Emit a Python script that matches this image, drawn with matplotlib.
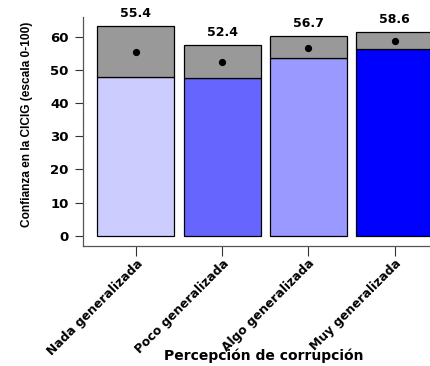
import matplotlib
matplotlib.use('Agg')
import matplotlib.pyplot as plt
import numpy as np

# Data
categories = ['Nada generalizada', 'Poco generalizada', 'Algo generalizada', 'Muy generalizada']
means = [55.4, 52.4, 56.7, 58.6]
lower = [47.8, 47.6, 53.5, 56.3]
upper = [63.3, 57.4, 60.3, 61.3]
bar_colors = ['#CCCCFF', '#6666FF', '#9999FF', '#0000FF']

fig = plt.figure(figsize=(4.3, 3.66), dpi=100)
ax = fig.add_axes([0.1923, 0.3279, 0.8077, 0.6265])

x = np.arange(len(categories))
width = 0.893

# lower part of each bar (0 to lower bound) and grey CI band
ax.bar(x, lower, width=width, color=bar_colors, edgecolor='black', linewidth=0.9)
ax.bar(x, np.array(upper) - np.array(lower), bottom=lower, width=width,
       color='#999999', edgecolor='black', linewidth=0.9)
ax.plot(x, means, 'o', color='black', markersize=4.2)

for xi, m, up in zip(x, means, upper):
    ax.text(xi, up + 1.8, f'{m:.1f}', ha='center', va='bottom',
            fontsize=9, fontweight='bold', family='DejaVu Sans', clip_on=False)

ax.set_xlim(-0.618, 3.41)
ax.set_ylim(-3.1, 66)
ax.set_yticks(range(0, 61, 10))
ax.set_xticks(x)
ax.set_xticklabels(categories, rotation=45, ha='right', va='top',
                   rotation_mode='anchor', fontsize=8.8, fontweight='bold')
for lab in ax.get_yticklabels():
    lab.set_fontweight('bold')
    lab.set_fontsize(9.5)

ax.tick_params(axis='y', length=6, width=0.8, color='#333333', pad=4)
ax.tick_params(axis='x', length=7, width=0.8, color='#333333', pad=1)

for side in ['top', 'right']:
    ax.spines[side].set_visible(False)
for side in ['left', 'bottom']:
    ax.spines[side].set_color('#555555')
    ax.spines[side].set_linewidth(0.9)

ax.set_ylabel('Confianza en la CICIG (escala 0-100)', fontsize=8.6,
              fontweight='bold', family='Liberation Sans')
ax.yaxis.set_label_coords(-0.143, 0.53)
ax.set_xlabel('Percepción de corrupción', fontsize=10, fontweight='bold',
              va='center')
ax.xaxis.set_label_coords(0.52, -0.48)

fig.savefig('out.png', dpi=100, facecolor='white')
